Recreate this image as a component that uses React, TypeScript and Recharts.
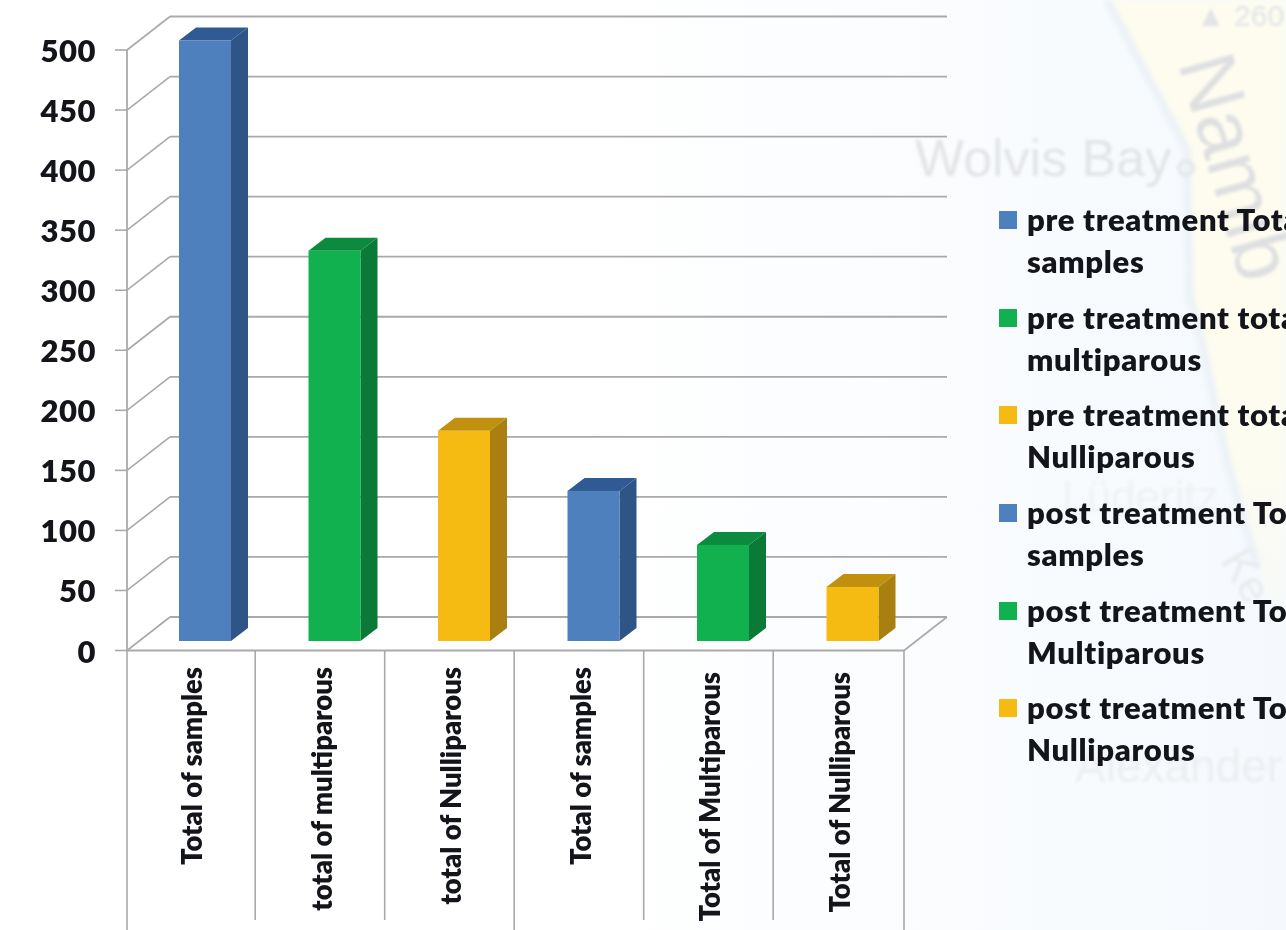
import React from "react";
import { BarChart, Bar, XAxis, YAxis, CartesianGrid, Legend } from "recharts";

// Group labels on the category axis
const categories = [
  "Total of samples",
  "total of multiparous",
  "total of Nulliparous",
  "Total of samples",
  "Total of Multiparous",
  "Total of Nulliparous",
];
const counts = [500, 325, 175, 125, 80, 45];
const yTicks = [0, 50, 100, 150, 200, 250, 300, 350, 400, 450, 500];

// Legend text, already broken onto its two lines
const legendFirstLines = [
  "pre treatment Total",
  "pre treatment total",
  "pre treatment total",
  "post treatment Total",
  "post treatment Total",
  "post treatment Total",
];
const legendSecondLines = ["samples", "multiparous", "Nulliparous", "samples", "Multiparous", "Nulliparous"];

// Front, side and top shades of each column
const frontColors = ["#4d80bd", "#10b14e", "#f5bb12", "#4d80bd", "#10b14e", "#f5bb12"];
const sideColors = ["#2f5587", "#0a7a36", "#a97f10", "#2f5587", "#0a7a36", "#a97f10"];
const topColors = ["#2f5a94", "#0c8a3e", "#c0900e", "#2f5a94", "#0c8a3e", "#c0900e"];

const WIDTH = 1286;
const HEIGHT = 930;
const PLOT_LEFT = 127;
const PLOT_RIGHT = 904;
const PLOT_TOP = 50;
const PLOT_BOTTOM = 650.5;
const BAND = (PLOT_RIGHT - PLOT_LEFT) / categories.length;

// Depth of the box the chart sits in
const WALL_DX = 43;
const WALL_DY = 33.5;
// Depth of a column and its place inside the box
const BAR_DX = 17;
const BAR_DY = 13;
const BAR_SHIFT_X = 13;
const BAR_SHIFT_Y = 9.5;

const FONT = "Lato, 'Open Sans', sans-serif";
const GRID = "#a9a9a9";
const INK = "#14151a";

const data = categories.map((name, i) => ({ key: `${i}`, name, count: counts[i] }));

// Floor and back wall rules: one diagonal plus one line along the rear plane
const renderWallLine = (p: any) => {
  const { x1, x2, y1 } = p;
  const isFloor = Math.abs(y1 - PLOT_BOTTOM) < 1;
  const bx = x1 + WALL_DX;
  const by = y1 - WALL_DY;
  return (
    <g key={`wall-${y1}`}>
      <line x1={x1} y1={y1} x2={bx} y2={by} stroke={GRID} strokeWidth={1.6} />
      <line x1={bx} y1={by} x2={x2 + WALL_DX} y2={by} stroke={GRID} strokeWidth={1.8} />
      {isFloor && <line x1={x2} y1={y1} x2={x2 + WALL_DX} y2={by} stroke={GRID} strokeWidth={1.6} />}
    </g>
  );
};

// Extruded column: front face, shaded side, shaded top
const Column = (p: any) => {
  const { x, y, width, height, index } = p;
  const l = x + BAR_SHIFT_X;
  const r = l + width;
  const t = y - BAR_SHIFT_Y;
  const b = t + height;
  return (
    <g>
      <polygon points={`${l},${t} ${r},${t} ${r + BAR_DX},${t - BAR_DY} ${l + BAR_DX},${t - BAR_DY}`} fill={topColors[index]} />
      <polygon points={`${r},${t} ${r + BAR_DX},${t - BAR_DY} ${r + BAR_DX},${b - BAR_DY} ${r},${b}`} fill={sideColors[index]} />
      <rect x={l} y={t} width={width} height={height} fill={frontColors[index]} />
    </g>
  );
};

// Rotated group label with the cell dividers running below the axis
const CategoryTick = (p: any) => {
  const { x, index } = p;
  const left = x - BAND / 2 - (index === 0 ? 0 : 1.3);
  const right = x + BAND / 2;
  const tall = index % 3 === 0;
  const textTop = index >= 4 ? 672 : 667;
  const tx = x + 10.5;
  return (
    <g>
      <line x1={left} y1={PLOT_BOTTOM} x2={left} y2={tall ? HEIGHT : 920} stroke={GRID} strokeWidth={1.6} />
      {index === categories.length - 1 && (
        <line x1={right} y1={PLOT_BOTTOM} x2={right} y2={HEIGHT} stroke={GRID} strokeWidth={1.6} />
      )}
      <text
        x={tx}
        y={textTop}
        transform={`rotate(-90 ${tx} ${textTop})`}
        textAnchor="end"
        fontFamily={FONT}
        fontWeight={800}
        fontSize={27.4}
        fill={INK}
      >
        {categories[index]}
      </text>
    </g>
  );
};

const LegendList = () => (
  <div style={{ fontFamily: FONT, fontWeight: 800, fontSize: 31, letterSpacing: 0.7, lineHeight: "42px", color: INK, whiteSpace: "nowrap" }}>
    {legendFirstLines.map((line, i) => (
      <div key={i} style={{ position: "relative", height: 97.7, paddingLeft: 29 }}>
        <span style={{ position: "absolute", left: 1, top: 13, width: 18, height: 18, background: frontColors[i] }} />
        <div>{line}</div>
        <div>{legendSecondLines[i]}</div>
      </div>
    ))}
  </div>
);

// Faded map behind the chart
const MapBackdrop = () => (
  <svg width={WIDTH} height={HEIGHT} style={{ position: "absolute", left: 0, top: 0 }}>
    <defs>
      <linearGradient id="sea" x1="0" y1="0" x2="1" y2="0">
        <stop offset="0.45" stopColor="#ffffff" />
        <stop offset="1" stopColor="#f5f9fd" />
      </linearGradient>
      <linearGradient id="land" gradientUnits="userSpaceOnUse" x1="0" y1="0" x2="0" y2="930">
        <stop offset="0" stopColor="#fdfcef" />
        <stop offset="0.5" stopColor="#fdfcf0" />
        <stop offset="0.66" stopColor="#f9faf6" stopOpacity="0.6" />
        <stop offset="0.8" stopColor="#f5f9fc" stopOpacity="0" />
      </linearGradient>
      <filter id="soft" x="-10%" y="-10%" width="120%" height="120%">
        <feGaussianBlur stdDeviation="1.8" />
      </filter>
      <filter id="softer" x="-10%" y="-10%" width="120%" height="120%">
        <feGaussianBlur stdDeviation="3" />
      </filter>
    </defs>
    <rect width={WIDTH} height={HEIGHT} fill="url(#sea)" />
    <polygon
      points="1107,0 1187,150 1190,300 1197,320 1227,460 1257,567 1286,640 1286,0"
      fill="url(#land)"
      filter="url(#softer)"
    />
    <polyline
      points="1107,0 1187,150 1190,300 1197,320 1227,460 1257,567"
      fill="none"
      stroke="#e3ecf7"
      strokeWidth={5}
      filter="url(#softer)"
    />
    <line x1={1222} y1={0} x2={1222} y2={HEIGHT} stroke="#eef3f6" strokeWidth={8} filter="url(#softer)" />
    <g filter="url(#soft)" fontFamily="'Liberation Sans', sans-serif" fill="#e2e4e6">
      <text x={915} y={176} fontSize={52}>Wolvis Bay</text>
      <circle cx={1186} cy={168} r={7} fill="none" stroke="#e6e8ea" strokeWidth={4} />
      <text x={1178} y={63} fontSize={80} fill="#dedfe0" transform="rotate(74 1178 63)">Namib</text>
      <text x={1196} y={26} fontSize={30}>▲ 260</text>
      <text x={1062} y={512} fontSize={44} fill="#eff1f3">Lüderitz</text>
      <text x={1220} y={560} fontSize={44} fill="#e9eaec" transform="rotate(60 1220 560)">Ke</text>
      <text x={1075} y={782} fontSize={46} fill="#eceef0">Alexander</text>
    </g>
  </svg>
);

export default function App() {
  return (
    <div style={{ position: "absolute", left: 0, top: 0, width: WIDTH, height: HEIGHT, overflow: "hidden", background: "#fff" }}>
      <MapBackdrop />
      <BarChart
        width={WIDTH}
        height={HEIGHT}
        data={data}
        margin={{ top: PLOT_TOP, right: WIDTH - PLOT_RIGHT, bottom: 0, left: 0 }}
        barCategoryGap={0}
        style={{ position: "absolute", left: 0, top: 0 }}
      >
        <CartesianGrid vertical={false} horizontal={renderWallLine} stroke={GRID} syncWithTicks />
        <XAxis
          dataKey="key"
          height={HEIGHT - PLOT_BOTTOM}
          interval={0}
          tickLine={false}
          axisLine={{ stroke: GRID, strokeWidth: 1.8 }}
          tick={CategoryTick}
        />
        <YAxis
          width={PLOT_LEFT}
          domain={[0, 500]}
          ticks={yTicks}
          interval={0}
          tickSize={12}
          tickMargin={19}
          tickLine={{ stroke: GRID, strokeWidth: 1.6 }}
          axisLine={{ stroke: GRID, strokeWidth: 1.8 }}
          tick={{ fontFamily: FONT, fontWeight: 800, fontSize: 31, letterSpacing: 0.5, fill: INK, dy: 1 }}
        />
        <Bar dataKey="count" barSize={52} shape={Column} isAnimationActive={false} />
        <Legend
          content={LegendList}
          layout="vertical"
          align="center"
          verticalAlign="middle"
          wrapperStyle={{ left: 998, top: 198, width: 288, right: "auto", bottom: "auto" }}
        />
      </BarChart>
    </div>
  );
}
